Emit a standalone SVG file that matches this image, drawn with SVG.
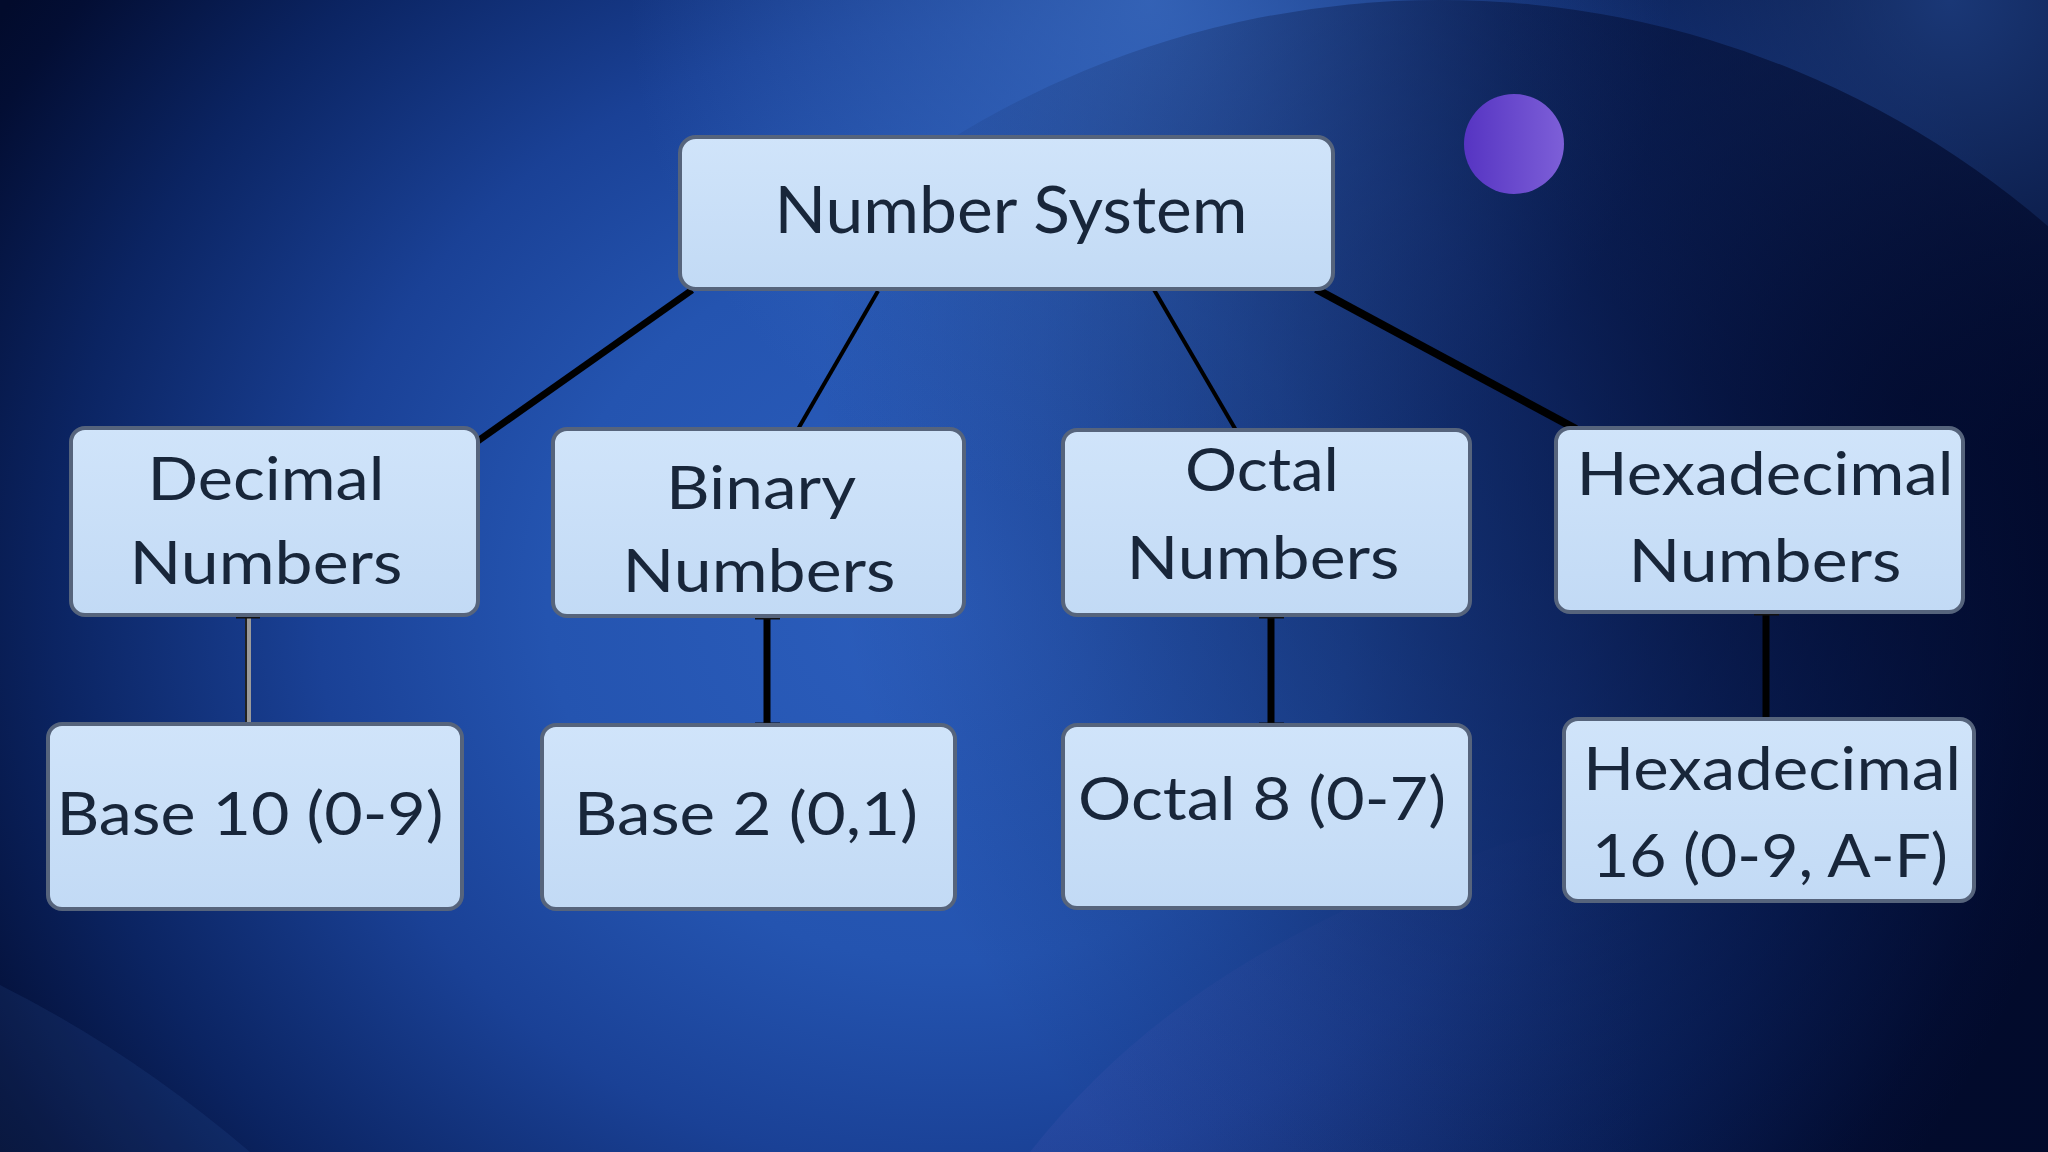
<svg xmlns="http://www.w3.org/2000/svg" width="2048" height="1152" viewBox="0 0 2048 1152">
  <defs>
    <radialGradient id="bg" gradientUnits="userSpaceOnUse" cx="950" cy="600" r="1150" gradientTransform="translate(950 600) scale(1 0.9) translate(-950 -600)">
      <stop offset="0" stop-color="#2c5ebd"/>
      <stop offset="0.35" stop-color="#2454b0"/>
      <stop offset="0.55" stop-color="#1a4196"/>
      <stop offset="0.78" stop-color="#0b2462"/>
      <stop offset="0.95" stop-color="#030e34"/>
      <stop offset="1" stop-color="#020b2c"/>
    </radialGradient>
    <radialGradient id="glowTop" gradientUnits="userSpaceOnUse" cx="1150" cy="0" r="520">
      <stop offset="0" stop-color="#3d6fc4" stop-opacity="0.75"/>
      <stop offset="1" stop-color="#3d6fc4" stop-opacity="0"/>
    </radialGradient>
    <radialGradient id="glowTR" gradientUnits="userSpaceOnUse" cx="1950" cy="0" r="450">
      <stop offset="0" stop-color="#2a55a8" stop-opacity="0.6"/>
      <stop offset="1" stop-color="#2a55a8" stop-opacity="0"/>
    </radialGradient>
    <radialGradient id="circOv" gradientUnits="userSpaceOnUse" cx="1920" cy="400" r="1100">
      <stop offset="0" stop-color="#020a2c" stop-opacity="0.85"/>
      <stop offset="0.55" stop-color="#020a2c" stop-opacity="0.38"/>
      <stop offset="0.8" stop-color="#020a2c" stop-opacity="0.15"/>
      <stop offset="1" stop-color="#020a2c" stop-opacity="0"/>
    </radialGradient>
    <linearGradient id="purpleBR" gradientUnits="userSpaceOnUse" x1="1030" y1="0" x2="1650" y2="0">
      <stop offset="0" stop-color="#6a62c0" stop-opacity="0.12"/>
      <stop offset="1" stop-color="#6a62c0" stop-opacity="0"/>
    </linearGradient>
    <linearGradient id="dot" x1="0" y1="0" x2="1" y2="0">
      <stop offset="0" stop-color="#5634c2"/>
      <stop offset="1" stop-color="#7d5fd8"/>
    </linearGradient>
    <linearGradient id="boxFill" x1="0" y1="0" x2="0" y2="1">
      <stop offset="0" stop-color="#d0e4fa"/>
      <stop offset="1" stop-color="#c2daf5"/>
    </linearGradient>
    <style>
      .box { fill: url(#boxFill); stroke: #56647c; stroke-width: 4; }
      .lbl { font-family: Lato, "Liberation Sans", sans-serif; font-size: 60px; fill: #18263a; text-anchor: middle; }
      .root { font-size: 65px; }
      .ln { stroke: #000000; fill: none; stroke-linecap: butt; }
      .tb { stroke: #111111; stroke-width: 3; }
    </style>
  </defs>

  <g id="background">
    <rect x="0" y="0" width="2048" height="1152" fill="url(#bg)"/>
    <rect x="0" y="0" width="2048" height="1152" fill="url(#glowTop)"/>
    <rect x="0" y="0" width="2048" height="1152" fill="url(#glowTR)"/>
    <path d="M1030,1152 C1150,1000 1300,920 1500,845 L2048,700 L2048,1152 Z" fill="url(#purpleBR)"/>
    <circle cx="1440" cy="930" r="930" fill="url(#circOv)"/>
    <path d="M0,985 Q130,1050 250,1152 L0,1152 Z" fill="#3a6ab8" fill-opacity="0.13"/>
    <circle cx="1514" cy="144" r="50" fill="url(#dot)"/>
  </g>

  <g id="connectors">
    <line class="ln" x1="692" y1="290" x2="475" y2="443" stroke-width="7"/>
    <line class="ln" x1="878" y1="291" x2="794" y2="436" stroke-width="4"/>
    <line class="ln" x1="1153" y1="288" x2="1237" y2="432" stroke-width="4"/>
    <line class="ln" x1="1316" y1="289" x2="1576" y2="429" stroke-width="8"/>

    <line x1="248" y1="616" x2="248" y2="725" stroke="#9a9a9a" stroke-width="6"/>
    <line x1="246" y1="616" x2="246" y2="725" stroke="#222222" stroke-width="2"/>
    <line class="tb" x1="236" y1="617" x2="260" y2="617"/>
    <line class="tb" x1="238" y1="724" x2="258" y2="724"/>

    <line class="ln" x1="767" y1="617" x2="767" y2="725" stroke-width="7"/>
    <line class="tb" x1="755" y1="618" x2="780" y2="618"/>
    <line class="tb" x1="755" y1="724" x2="780" y2="724"/>

    <line class="ln" x1="1271" y1="616" x2="1271" y2="725" stroke-width="7"/>
    <line class="tb" x1="1259" y1="617" x2="1284" y2="617"/>
    <line class="tb" x1="1259" y1="724" x2="1284" y2="724"/>

    <line class="ln" x1="1766" y1="613" x2="1766" y2="719" stroke-width="7"/>
    <line class="tb" x1="1754" y1="614" x2="1779" y2="614"/>
  </g>

  <g id="node-root">
    <rect class="box" x="680" y="137" width="653" height="152" rx="16"/>
    <text class="lbl root" x="1011" y="233" textLength="473" lengthAdjust="spacingAndGlyphs">Number System</text>
  </g>

  <g id="node-decimal">
    <rect class="box" x="71" y="428" width="407" height="187" rx="14"/>
    <text class="lbl" x="266" y="500" textLength="237" lengthAdjust="spacingAndGlyphs">Decimal</text>
    <text class="lbl" x="266" y="584" textLength="273" lengthAdjust="spacingAndGlyphs">Numbers</text>
  </g>

  <g id="node-binary">
    <rect class="box" x="553" y="429" width="411" height="187" rx="14"/>
    <text class="lbl" x="761" y="509" textLength="190" lengthAdjust="spacingAndGlyphs">Binary</text>
    <text class="lbl" x="759" y="592" textLength="273" lengthAdjust="spacingAndGlyphs">Numbers</text>
  </g>

  <g id="node-octal">
    <rect class="box" x="1063" y="430" width="407" height="185" rx="14"/>
    <text class="lbl" x="1262" y="491" textLength="154" lengthAdjust="spacingAndGlyphs">Octal</text>
    <text class="lbl" x="1263" y="579" textLength="273" lengthAdjust="spacingAndGlyphs">Numbers</text>
  </g>

  <g id="node-hex">
    <rect class="box" x="1556" y="428" width="407" height="184" rx="14"/>
    <text class="lbl" x="1765" y="495" textLength="377" lengthAdjust="spacingAndGlyphs">Hexadecimal</text>
    <text class="lbl" x="1765" y="582" textLength="273" lengthAdjust="spacingAndGlyphs">Numbers</text>
  </g>

  <g id="node-base10">
    <rect class="box" x="48" y="724" width="414" height="185" rx="14"/>
    <text class="lbl" x="250" y="835" textLength="387" lengthAdjust="spacingAndGlyphs">Base 10 (0-9)</text>
  </g>

  <g id="node-base2">
    <rect class="box" x="542" y="725" width="413" height="184" rx="14"/>
    <text class="lbl" x="746" y="835" textLength="344" lengthAdjust="spacingAndGlyphs">Base 2 (0,1)</text>
  </g>

  <g id="node-octal8">
    <rect class="box" x="1063" y="725" width="407" height="183" rx="14"/>
    <text class="lbl" x="1262" y="820" textLength="368" lengthAdjust="spacingAndGlyphs">Octal 8 (0-7)</text>
  </g>

  <g id="node-hex16">
    <rect class="box" x="1564" y="719" width="410" height="182" rx="14"/>
    <text class="lbl" x="1772" y="790" textLength="378" lengthAdjust="spacingAndGlyphs">Hexadecimal</text>
    <text class="lbl" x="1770" y="877" textLength="356" lengthAdjust="spacingAndGlyphs">16 (0-9, A-F)</text>
  </g>
</svg>
